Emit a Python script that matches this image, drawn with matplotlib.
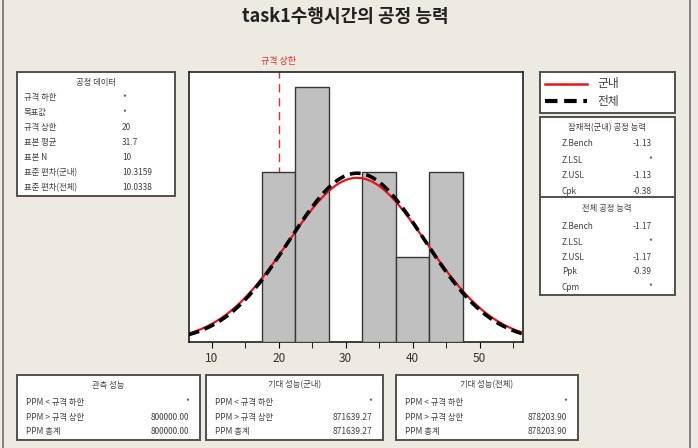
import numpy as np
import matplotlib
matplotlib.use("Agg")
import matplotlib.pyplot as plt
from matplotlib.patches import Rectangle
from matplotlib.lines import Line2D

plt.rcParams['font.family'] = ['Noto Sans CJK KR', 'DejaVu Sans']

# data
title = "task1수행시간의 공정 능력"
bin_centers = [20, 25, 30, 35, 40, 45]
counts = [2, 3, 0, 2, 1, 2]
bin_width = 5
usl = 20
mean = 31.7
n = 10
sd_within = 10.3159
sd_overall = 10.0338

proc_labels = ["규격 하한", "목표값", "규격 상한", "표본 평균", "표본 N", "표준 편차(군내)", "표준 편차(전체)"]
proc_values = ["*", "*", "20", "31.7", "10", "10.3159", "10.0338"]

pot_labels = ["Z.Bench", "Z.LSL", "Z.USL", "Cpk"]
pot_values = ["-1.13", "*", "-1.13", "-0.38"]
ovr_labels = ["Z.Bench", "Z.LSL", "Z.USL", "Ppk", "Cpm"]
ovr_values = ["-1.17", "*", "-1.17", "-0.39", "*"]

ppm_labels = ["PPM < 규격 하한", "PPM > 규격 상한", "PPM 총계"]
obs_values = ["*", "800000.00", "800000.00"]
exp_w_values = ["*", "871639.27", "871639.27"]
exp_o_values = ["*", "878203.90", "878203.90"]

W, H = 698, 448
BG = '#EDEAE2'
TXT = '#404040'
FS = 6

fig = plt.figure(figsize=(W / 100, H / 100), dpi=100, facecolor=BG)


def fx(px):
    return px / W


def fy(py):
    return 1 - py / H


def box(x0, y0, x1, y1):
    fig.patches.append(Rectangle((fx(x0), fy(y1)), fx(x1) - fx(x0), fy(y0) - fy(y1),
                                 transform=fig.transFigure, facecolor='white',
                                 edgecolor='#505050', linewidth=1.4, zorder=1))


def txt(px, py, s, ha='left', **kw):
    fig.text(fx(px), fy(py), s, ha=ha, va='center', fontsize=FS, color=TXT, **kw)


# outer frame lines
fig.add_artist(Line2D([fx(3), fx(3)], [0, 1], transform=fig.transFigure, color='#707070', lw=1.2))
fig.add_artist(Line2D([fx(690), fx(690)], [0, 1], transform=fig.transFigure, color='#707070', lw=1.2))

fig.text(fx(345), fy(16), title, ha='center', va='center', fontsize=13, fontweight='bold', color='#222222')

# histogram
ax = fig.add_axes([fx(189), fy(342), fx(523) - fx(189), fy(72) - fy(342)])
ax.set_facecolor('white')
ax.bar(bin_centers, counts, width=bin_width, color='#C0C0C0', edgecolor='#383838', linewidth=1.0, zorder=3)
xs = np.linspace(6.6, 56.5, 300)
scale = n * bin_width
pdf_w = scale * np.exp(-0.5 * ((xs - mean) / sd_within) ** 2) / (sd_within * np.sqrt(2 * np.pi))
pdf_o = scale * np.exp(-0.5 * ((xs - mean) / sd_overall) ** 2) / (sd_overall * np.sqrt(2 * np.pi))
ax.plot(xs, pdf_w, color='#E8141B', lw=1.6, zorder=4)
ax.plot(xs, pdf_o, color='black', lw=2.6, ls=(0, (3, 1.6)), zorder=5)
ax.axvline(usl, color='#E03030', lw=1.0, ls=(0, (6, 4)), zorder=2)
ax.text(usl, 3.25, "규격 상한", color='#E03030', fontsize=FS + 0.5, ha='center', va='bottom')
ax.set_xlim(6.63, 56.45)
ax.set_ylim(0, 3.18)
ax.set_yticks([])
ax.set_xticks([10, 20, 30, 40, 50])
ax.set_xticks([15, 25, 35, 45, 55], minor=True)
ax.tick_params(axis='x', which='both', direction='out', length=4, labelsize=8.5, labelcolor='#333333', pad=3)
for s in ax.spines.values():
    s.set_color('#202020')
    s.set_linewidth(1.2)

# process data box
box(17, 72, 175, 196)
txt(96, 82, "공정 데이터", ha='center')
for i, (lab, val) in enumerate(zip(proc_labels, proc_values)):
    y = 97.5 + 15 * i
    txt(24, y, lab)
    txt(122, y, val)

# legend box
box(540, 72, 675, 113)
fig.add_artist(Line2D([fx(545), fx(587)], [fy(84), fy(84)], transform=fig.transFigure, color='#E8141B', lw=1.8))
fig.add_artist(Line2D([fx(545), fx(587)], [fy(101), fy(101)], transform=fig.transFigure, color='black', lw=3,
                      ls=(0, (3, 1.6))))
fig.text(fx(597), fy(84), "군내", ha='left', va='center', fontsize=8.5, color=TXT)
fig.text(fx(597), fy(101), "전체", ha='left', va='center', fontsize=8.5, color=TXT)

# capability box
box(540, 117, 675, 295)
fig.add_artist(Line2D([fx(540), fx(675)], [fy(197), fy(197)], transform=fig.transFigure, color='#505050', lw=1.4))
txt(607, 128, "잠재적(군내) 공정 능력", ha='center')
for lab, val, y in zip(pot_labels, pot_values, [144, 160, 175, 191]):
    txt(562, y, lab)
    txt(652, y, val, ha='right')
txt(607, 208, "전체 공정 능력", ha='center')
for lab, val, y in zip(ovr_labels, ovr_values, [226, 242, 258, 272, 287]):
    txt(562, y, lab)
    txt(652, y, val, ha='right')

# bottom boxes
bottom = [(17, 200, "관측 성능", obs_values),
          (206, 383, "기대 성능(군내)", exp_w_values),
          (396, 578, "기대 성능(전체)", exp_o_values)]
for x0, x1, head, vals in bottom:
    box(x0, 375, x1, 440)
    txt((x0 + x1) / 2, 385, head, ha='center')
    for lab, val, y in zip(ppm_labels, vals, [402, 417, 431]):
        txt(x0 + 9, y, lab)
        txt(x1 - 11, y, val, ha='right')

fig.savefig("out.png", dpi=100, facecolor=BG)
